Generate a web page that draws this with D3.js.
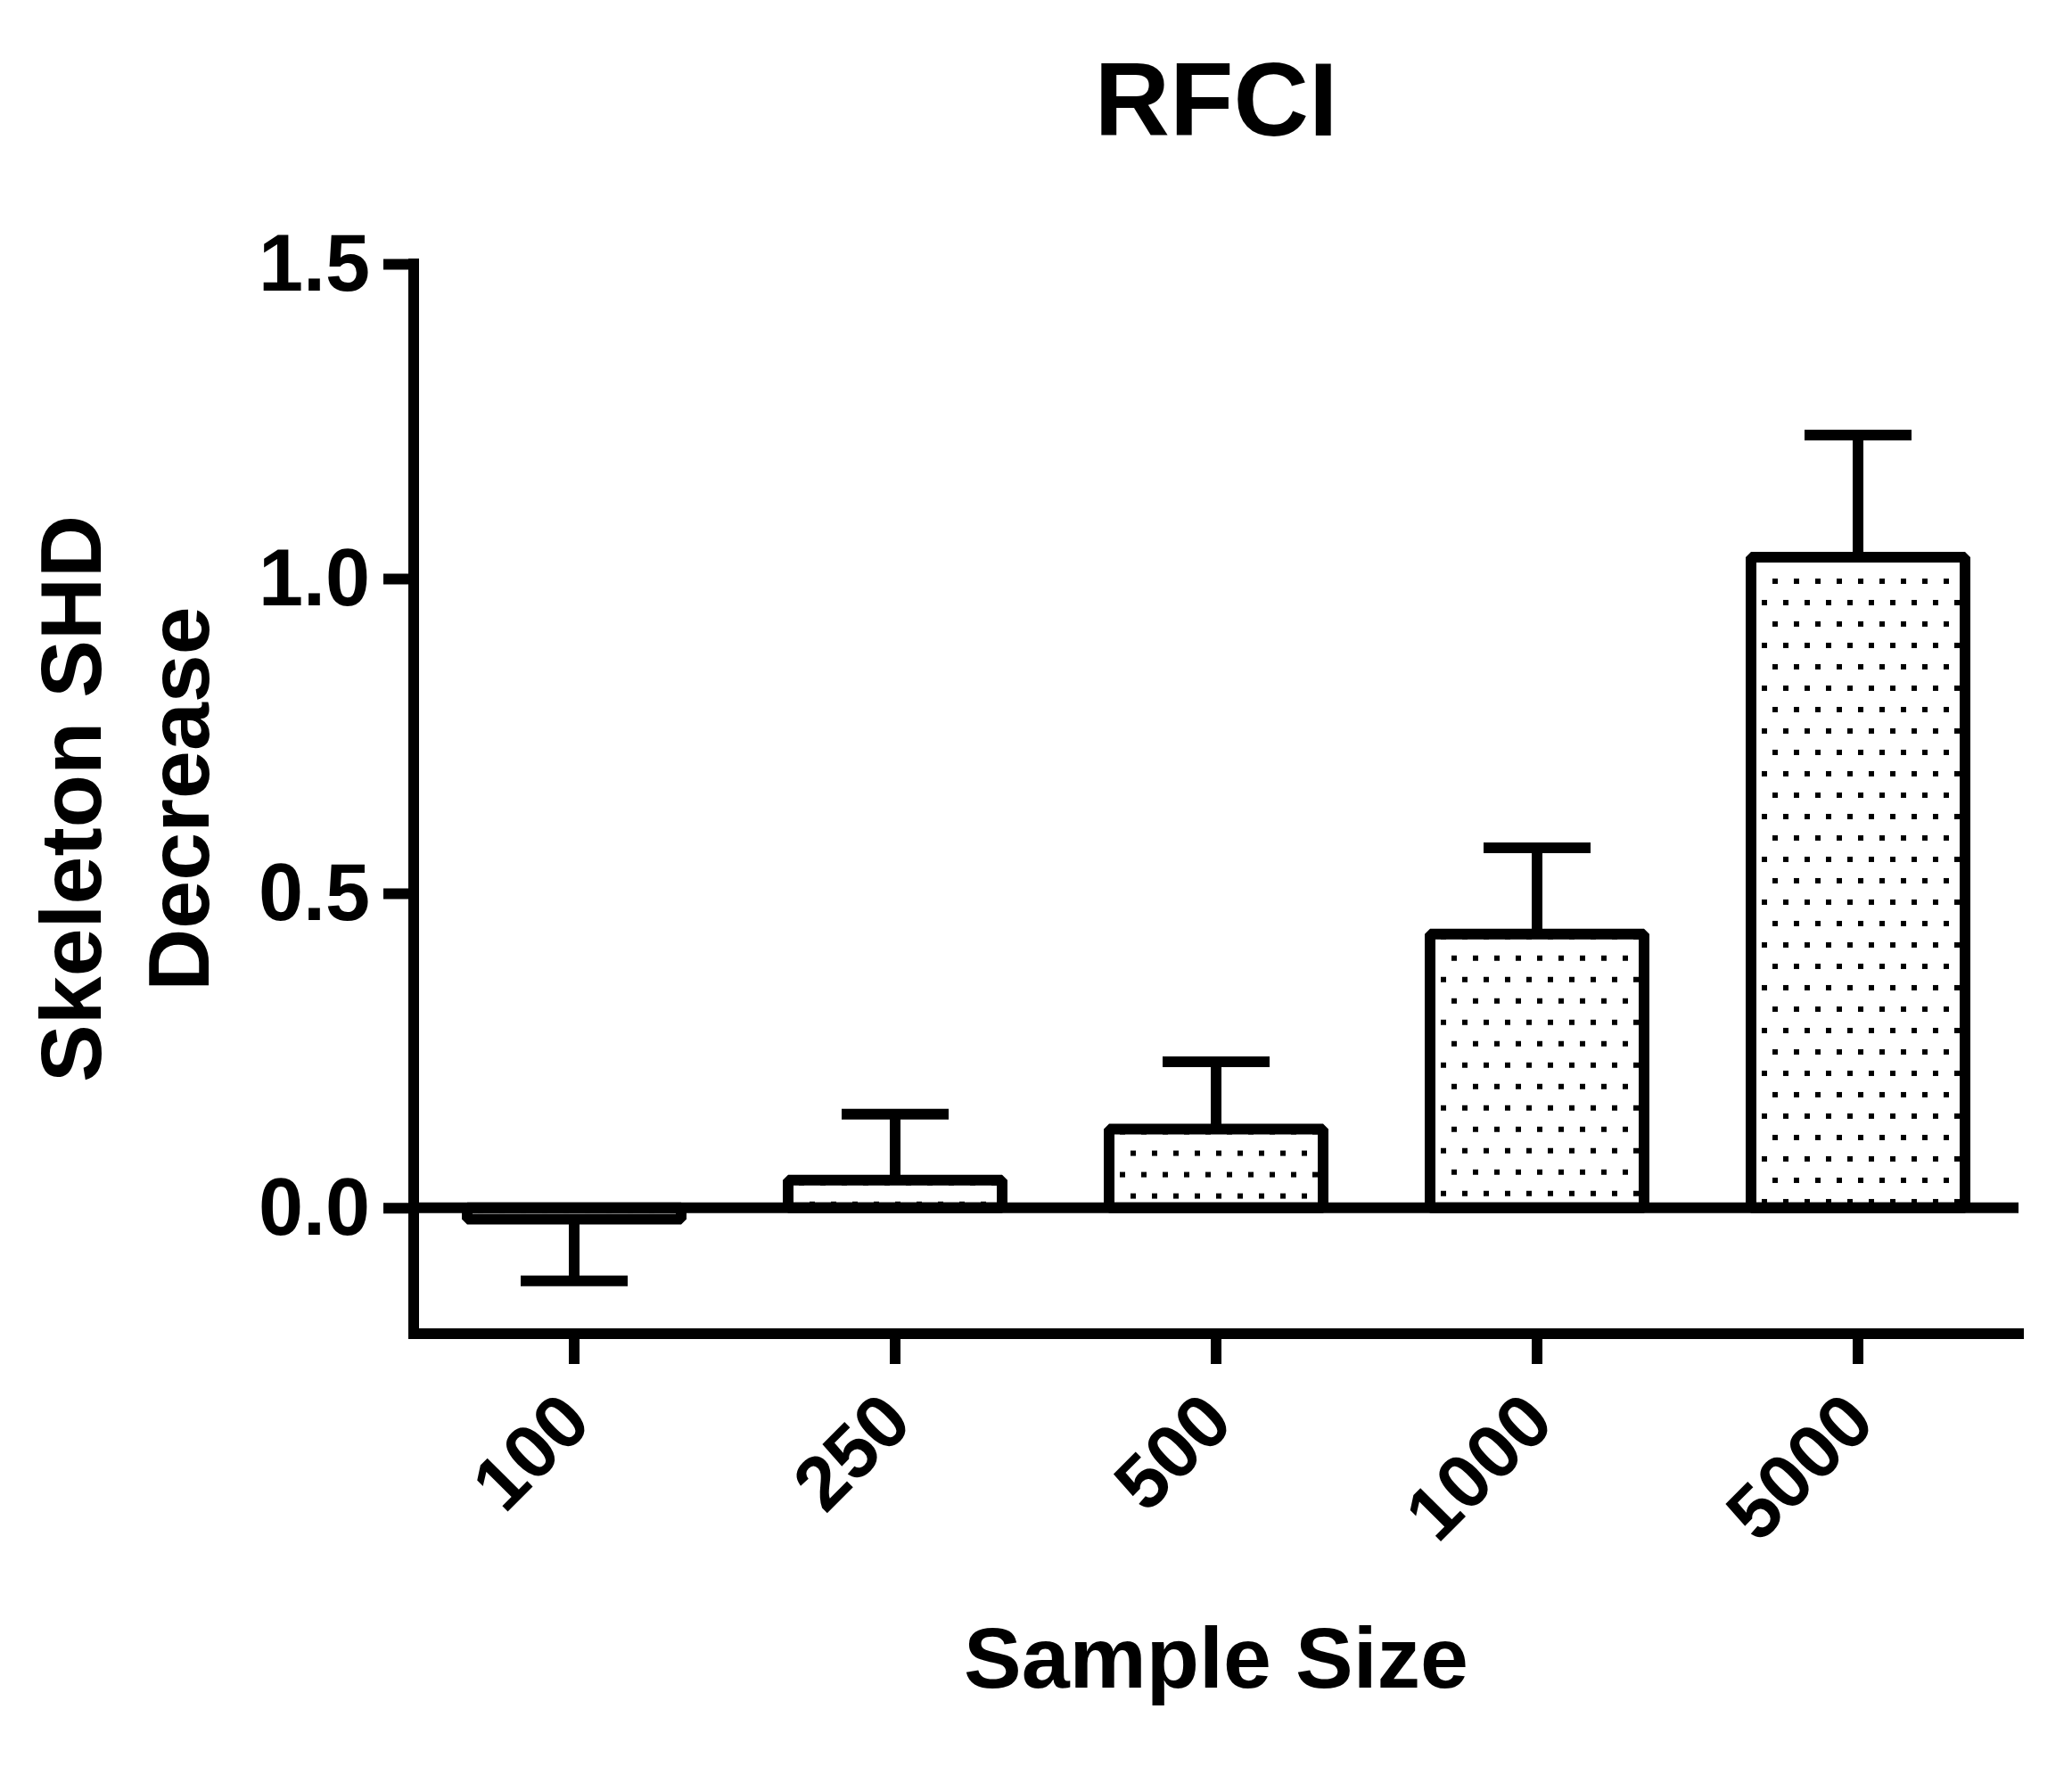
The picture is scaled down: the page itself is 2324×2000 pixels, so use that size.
<!DOCTYPE html>
<html>
<head>
<meta charset="utf-8">
<script src="https://cdn.jsdelivr.net/npm/d3@7"></script>
<style>
  body { margin: 0; background: #fff; }
  text { font-family: "Liberation Sans", Arial, sans-serif; font-weight: bold; fill: #000; }
</style>
</head>
<body>
<div id="chart"></div>
<script>

  ///////////////////////////////////////////////////////////////////////////
  ///////////////////////////////// Data ////////////////////////////////////
  ///////////////////////////////////////////////////////////////////////////
  var sampleSizes = ["100", "250", "500", "1000", "5000"]
  var shdDecrease = [-0.018, 0.044, 0.125, 0.435, 1.034]
  var errorBars  = [0.098, 0.105, 0.107, 0.137, 0.194]
  var yTicks = [0, 0.5, 1.0, 1.5]

  ///////////////////////////////////////////////////////////////////////////
  ///////////////////////////////// Globals /////////////////////////////////
  ///////////////////////////////////////////////////////////////////////////
  var canvasDim = { width: 2324, height: 2000 }
  var plot = { left: 464, right: 2264, top: 296, bottom: 1496 }
  var sw = 12

  var svg = d3.select("#chart").append("svg")
    .attr("width", canvasDim.width)
    .attr("height", canvasDim.height)

  var data = sampleSizes.map(function (d, i) {
    return { label: d, value: shdDecrease[i], err: errorBars[i] }
  })

  ///////////////////////////////////////////////////////////////////////////
  ///////////////////////////// Create scales ///////////////////////////////
  ///////////////////////////////////////////////////////////////////////////
  var x = d3.scaleBand()
    .domain(sampleSizes)
    .range([plot.left, plot.right])
    .paddingInner(1 / 3)
    .paddingOuter(1 / 6)

  var y = d3.scaleLinear()
    .domain([-0.2, 1.5])
    .range([plot.bottom, plot.top])

  ///////////////////////////////////////////////////////////////////////////
  //////////////////////////////// Patterns /////////////////////////////////
  ///////////////////////////////////////////////////////////////////////////
  var defs = svg.append("defs")
  var pats = defs.selectAll("pattern").data(data).enter().append("pattern")
    .attr("id", function (d, i) { return "dots" + i })
    .attr("patternUnits", "userSpaceOnUse")
    .attr("x", function (d) { return x(d.label) })
    .attr("y", function (d) { return y(Math.max(0, d.value)) })
    .attr("width", 24)
    .attr("height", 48)
  pats.append("rect").attr("width", 24).attr("height", 48).attr("fill", "#fff")
  pats.append("rect").attr("x", 0).attr("y", 24).attr("width", 6).attr("height", 6).attr("fill", "#000")
  pats.append("rect").attr("x", 12).attr("y", 0).attr("width", 6).attr("height", 6).attr("fill", "#000")

  ///////////////////////////////////////////////////////////////////////////
  ////////////////////////////////// Bars ///////////////////////////////////
  ///////////////////////////////////////////////////////////////////////////
  svg.append("g").selectAll("rect").data(data).enter().append("rect")
    .attr("x", function (d) { return x(d.label) })
    .attr("y", function (d) { return y(Math.max(0, d.value)) })
    .attr("width", x.bandwidth())
    .attr("height", function (d) { return Math.abs(y(d.value) - y(0)) })
    .attr("fill", function (d, i) { return "url(#dots" + i + ")" })
    .attr("stroke", "#000")
    .attr("stroke-width", sw)
    .attr("stroke-linejoin", "bevel")

  // one-sided error bars, pointing away from zero
  var err = svg.append("g").selectAll("g").data(data).enter().append("g")
  var cx = function (d) { return x(d.label) + x.bandwidth() / 2 }
  var tipY = function (d) { return y(d.value + (d.value < 0 ? -d.err : d.err)) }

  err.append("line")
    .attr("x1", cx).attr("x2", cx)
    .attr("y1", function (d) { return y(d.value) })
    .attr("y2", tipY)
    .attr("stroke", "#000").attr("stroke-width", sw)
  err.append("line")
    .attr("x1", function (d) { return cx(d) - x.bandwidth() / 4 })
    .attr("x2", function (d) { return cx(d) + x.bandwidth() / 4 })
    .attr("y1", tipY).attr("y2", tipY)
    .attr("stroke", "#000").attr("stroke-width", sw)

  ///////////////////////////////////////////////////////////////////////////
  ////////////////////////////////// Axes ///////////////////////////////////
  ///////////////////////////////////////////////////////////////////////////
  var yAxis = svg.append("g")
    .attr("transform", "translate(" + plot.left + ",0)")
    .call(d3.axisLeft(y).tickValues(yTicks).tickSize(34).tickPadding(15)
      .tickFormat(d3.format(".1f")))
  yAxis.select(".domain").remove()
  yAxis.selectAll(".tick line").attr("stroke", "#000").attr("stroke-width", sw)
  yAxis.selectAll(".tick text").attr("font-size", 90).attr("dy", "0.33em")
    .attr("font-family", null)

  // zero line across the plot
  svg.append("line")
    .attr("x1", plot.left).attr("x2", plot.right)
    .attr("y1", y(0)).attr("y2", y(0))
    .attr("stroke", "#000").attr("stroke-width", sw)

  // y axis spine
  svg.append("line")
    .attr("x1", plot.left).attr("x2", plot.left)
    .attr("y1", y(1.5) - sw / 2).attr("y2", plot.bottom + sw / 2)
    .attr("stroke", "#000").attr("stroke-width", sw)

  var xAxis = svg.append("g")
    .attr("transform", "translate(0," + plot.bottom + ")")
    .call(d3.axisBottom(x).tickSize(34).tickSizeOuter(0))
  xAxis.select(".domain")
    .attr("d", "M" + (plot.left - sw / 2) + ",0H" + (plot.right + 6))
    .attr("stroke", "#000").attr("stroke-width", sw)
  xAxis.selectAll(".tick line").attr("stroke", "#000").attr("stroke-width", sw)
  xAxis.selectAll(".tick text")
    .attr("font-family", null)
    .attr("font-size", 85)
    .attr("text-anchor", "end")
    .attr("y", 0).attr("dy", 0)
    .attr("transform", "translate(22,103) rotate(-45)")

  ///////////////////////////////////////////////////////////////////////////
  ///////////////////////////////// Titles //////////////////////////////////
  ///////////////////////////////////////////////////////////////////////////
  svg.append("text")
    .attr("x", (plot.left + plot.right) / 2)
    .attr("y", 152)
    .attr("text-anchor", "middle")
    .attr("font-size", 117)
    .text("RFCI")

  svg.append("text")
    .attr("x", (plot.left + plot.right) / 2)
    .attr("y", 1893)
    .attr("text-anchor", "middle")
    .attr("font-size", 97)
    .text("Sample Size")

  var yTitle = svg.append("text")
    .attr("transform", "translate(113," + ((y(1.5) + plot.bottom) / 2) + ") rotate(-90)")
    .attr("text-anchor", "middle")
    .attr("font-size", 97)
  yTitle.append("tspan").attr("x", 0).attr("dy", 0).text("Skeleton SHD")
  yTitle.append("tspan").attr("x", 0).attr("dy", 121).text("Decrease")

</script>
</body>
</html>
